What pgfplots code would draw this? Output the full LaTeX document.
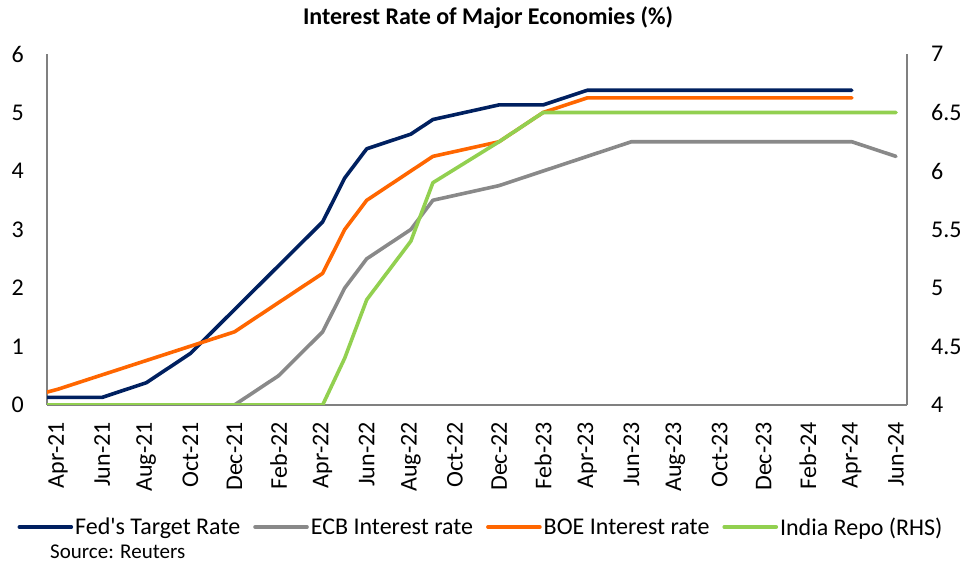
\documentclass[border=0pt]{standalone}
\usepackage{fontspec}
\setmainfont{Carlito}
\usepackage{pgfplots}
\usepackage{pgfplotstable}
\pgfplotsset{compat=1.18}
\definecolor{fedc}{HTML}{002060}
\definecolor{ecbc}{HTML}{898989}
\definecolor{boec}{HTML}{FF6600}
\definecolor{indc}{HTML}{92D050}
\definecolor{axc}{HTML}{808080}

\pgfplotstableread{
x y
-0.5 0.13
2 0.13
4 0.38
6 0.88
12 3.13
13 3.88
14 4.38
16 4.63
17 4.88
20 5.13
22 5.13
24 5.38
36 5.38
}\fed
\pgfplotstableread{
x y
-0.5 0
8 0
10 0.5
12 1.25
13 2.0
14 2.5
16 3.0
17 3.5
20 3.75
26 4.5
36 4.5
38 4.25
}\ecb
\pgfplotstableread{
x y
-0.5 0.22
0 0.27
8 1.25
12 2.25
13 3.0
14 3.5
17 4.25
20 4.5
22 5.0
24 5.25
36 5.25
}\boe
\pgfplotstableread{
x y
-0.5 4.0
12 4.0
13 4.4
14 4.9
16 5.4
17 5.9
20 6.25
22 6.5
38 6.5
}\india

\newcommand\tfs{\fontsize{24bp}{28bp}\selectfont}

\begin{document}
\begin{tikzpicture}
\path[use as bounding box] (0,0) rectangle (966bp,566bp);
\pgfplotsset{
 common/.style={
  scale only axis, width=860bp, height=351bp, at={(47bp,161bp)}, anchor=south west,
  xmin=-0.5, xmax=38.5,
  major tick length=0pt, minor tick num=0,
  tick label style={font=\tfs, inner sep=0pt},
  /pgf/number format/assume math mode=true,
  axis line style={axc, line width=1.3bp},
  every axis plot/.append style={line width=3.6bp, line cap=round, line join=round},
 }}
\begin{axis}[common,
  axis x line*=bottom, axis y line*=left,
  ymin=0, ymax=6, ytick={0,1,...,6},
  yticklabel shift=23bp,
  xtick={0,2,...,38},
  xticklabels={Apr-21,Jun-21,Aug-21,Oct-21,Dec-21,Feb-22,Apr-22,Jun-22,Aug-22,Oct-22,Dec-22,Feb-23,Apr-23,Jun-23,Aug-23,Oct-23,Dec-23,Feb-24,Apr-24,Jun-24},
  xticklabel style={rotate=90, anchor=east},
  xticklabel shift=17bp,
  legend columns=4,
  legend style={at={(0.5047,-0.3476)}, anchor=center, draw=none, fill=none,
    font=\tfs, inner sep=0pt,
    /tikz/every even column/.append style={column sep=11bp},
    nodes={inner sep=2bp}},
  legend image code/.code={\draw[#1, line cap=round] (0bp,0bp) -- (52bp,0bp);},
]
\addplot[fedc] table[x=x,y=y] {\fed};
\addlegendentry{Fed\textquotesingle s Target Rate}
\addplot[ecbc] table[x=x,y=y] {\ecb};
\addlegendentry{ECB Interest rate}
\addplot[boec] table[x=x,y=y] {\boe};
\addlegendentry{BOE Interest rate}
\addlegendimage{indc, line width=3.6bp}
\addlegendentry{India Repo (RHS)}
\end{axis}
\begin{axis}[common,
  axis x line=none, axis y line*=right,
  ymin=4, ymax=7, ytick={4,4.5,...,7},
  yticklabel shift=24bp,
  yticklabel style={anchor=west},
]
\addplot[indc] table[x=x,y=y] {\india};
\end{axis}
\node[font=\bfseries\tfs] at (488bp,548bp) {Interest Rate of Major Economies (\%)};
\node[font=\fontsize{21bp}{25bp}\selectfont, anchor=west, inner sep=0pt] at (50bp,14bp) {Source: Reuters};
\end{tikzpicture}
\end{document}
